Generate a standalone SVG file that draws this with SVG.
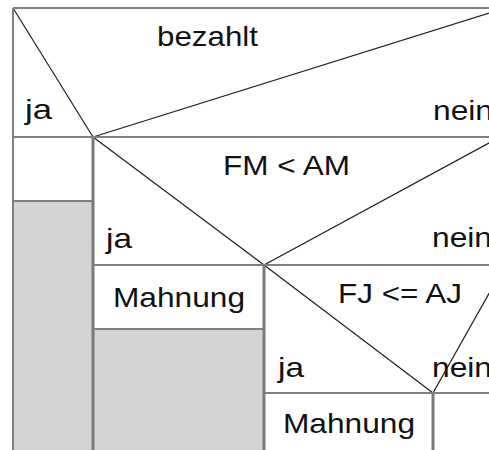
<svg xmlns="http://www.w3.org/2000/svg" width="489" height="450" viewBox="0 0 489 450">
<style>
.frame{fill:none;stroke:#808080;stroke-width:2}
.vline{stroke:#7a7a7a;stroke-width:3}
.cell{fill:#ffffff}
.shade{fill:#d3d3d3}
.diag{stroke:#1e1e1e;stroke-width:1.2;fill:none}
text{font-family:"Liberation Sans",Arial,sans-serif;font-size:28px;fill:#111}
</style>
<rect x="0" y="0" width="489" height="450" fill="#ffffff"/>
<g id="decision-bezahlt">
<line class="diag" x1="13" y1="8" x2="93" y2="137"/>
<line class="diag" x1="93" y1="137" x2="505" y2="8"/>
<text x="157" y="46" textLength="101" lengthAdjust="spacingAndGlyphs">bezahlt</text>
<text x="25" y="119" textLength="27" lengthAdjust="spacingAndGlyphs">ja</text>
<text x="433" y="120" textLength="60" lengthAdjust="spacingAndGlyphs">nein</text>
</g>
<g id="left-empty">
<rect class="cell" x="13" y="137" width="80" height="64"/>
</g>
<g id="left-shade">
<rect class="shade" x="13" y="201" width="80" height="250"/>
</g>
<g id="decision-fm">
<line class="diag" x1="93" y1="137" x2="264" y2="265"/>
<line class="diag" x1="264" y1="265" x2="500" y2="137"/>
<text x="223" y="175" textLength="127" lengthAdjust="spacingAndGlyphs">FM &lt; AM</text>
<text x="106" y="248" textLength="26" lengthAdjust="spacingAndGlyphs">ja</text>
<text x="432" y="247" textLength="60" lengthAdjust="spacingAndGlyphs">nein</text>
</g>
<g id="mahnung-1">
<text x="113" y="307" textLength="132" lengthAdjust="spacingAndGlyphs">Mahnung</text>
</g>
<g id="mid-shade">
<rect class="shade" x="93" y="329" width="171" height="122"/>
</g>
<g id="decision-fj">
<line class="diag" x1="264" y1="265" x2="433" y2="393"/>
<line class="diag" x1="433" y1="393" x2="505" y2="265"/>
<text x="338" y="303" textLength="124" lengthAdjust="spacingAndGlyphs">FJ &lt;= AJ</text>
<text x="278" y="377" textLength="26" lengthAdjust="spacingAndGlyphs">ja</text>
<text x="432" y="377" textLength="60" lengthAdjust="spacingAndGlyphs">nein</text>
</g>
<g id="mahnung-2">
<text x="283" y="433" textLength="132" lengthAdjust="spacingAndGlyphs">Mahnung</text>
</g>
<g id="frame-lines">
<line class="frame" x1="13" y1="8" x2="489" y2="8"/>
<line class="frame" x1="13" y1="8" x2="13" y2="450"/>
<line class="frame" x1="13" y1="137" x2="489" y2="137"/>
<line class="frame" x1="13" y1="201" x2="93" y2="201"/>
<line class="frame" x1="93" y1="265" x2="489" y2="265"/>
<line class="frame" x1="93" y1="329" x2="264" y2="329"/>
<line class="frame" x1="264" y1="393" x2="489" y2="393"/>
<line class="vline" x1="93" y1="137" x2="93" y2="450"/>
<line class="vline" x1="264" y1="265" x2="264" y2="450"/>
<line class="vline" x1="433" y1="393" x2="433" y2="450"/>
</g>
</svg>
